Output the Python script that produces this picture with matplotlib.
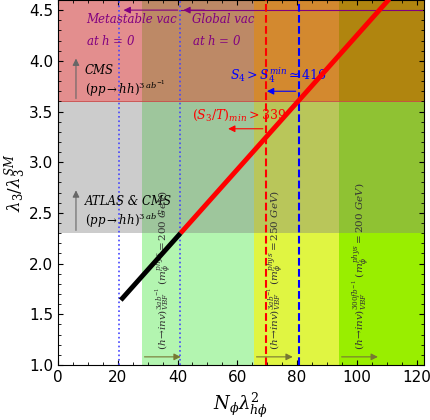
import matplotlib
matplotlib.use("Agg")
import matplotlib.pyplot as plt
from matplotlib.patches import Rectangle

# bands (x ranges) and colours
band_x = [(28, 65.5), (65.5, 94), (94, 122.5)]
band_colors = ["#b3f5b0", "#e0f542", "#99ee00"]
# horizontal exclusion regions (y ranges)
atlas_y = (2.3, 3.6)
cms_y = (3.6, 4.6)

# trajectory
black_x = [21, 41]
black_y = [1.64, 2.3]
red_x = [41, 113]
red_y = [2.3, 4.68]

vline_dotted = [20.5, 40.7]
vline_red = 69.5
vline_blue = 80.5

plt.rcParams["mathtext.fontset"] = "dejavuserif"
fig = plt.figure(figsize=(4.3, 4.2), dpi=100)
ax = fig.add_axes([0.135, 0.131, 0.851, 0.869])
ax.set_xlim(0, 122.5)
ax.set_ylim(1.0, 4.6)

for (x0, x1), c in zip(band_x, band_colors):
    ax.add_patch(Rectangle((x0, 1.0), x1 - x0, 3.6, color=c, lw=0, zorder=0))
ax.add_patch(Rectangle((0, atlas_y[0]), 122.5, atlas_y[1] - atlas_y[0], color="#808080", alpha=0.4, lw=0, zorder=1))
ax.add_patch(Rectangle((0, cms_y[0]), 122.5, cms_y[1] - cms_y[0], color="#c81e1e", alpha=0.5, lw=0, zorder=1))
ax.axhline(3.6, color="#cc4444", lw=0.6, zorder=1)

ax.plot(black_x, black_y, color="black", lw=3.5, solid_capstyle="butt", zorder=4)
ax.plot(red_x, red_y, color="red", lw=3.5, solid_capstyle="butt", zorder=4)

for xv in vline_dotted:
    ax.axvline(xv, color="#4444ff", ls=":", lw=1.2, zorder=3)
ax.axvline(vline_red, color="red", ls="--", lw=1.5, zorder=3)
ax.axvline(vline_blue, color="blue", ls="--", lw=1.5, zorder=3)

serif = dict(family="DejaVu Serif", style="italic")
# purple vacuum labels
ax.plot([41, 122], [4.5, 4.5], color="purple", lw=0.8)
ax.annotate("", xy=(21, 4.5), xytext=(41, 4.5), arrowprops=dict(arrowstyle="-|>", color="purple", lw=0.8))
ax.annotate("", xy=(41, 4.5), xytext=(50, 4.5), arrowprops=dict(arrowstyle="-|>", color="purple", lw=0.8))
ax.text(9.5, 4.3, "Metastable vac\nat $h$ = 0", color="purple", fontsize=8.5, va="center", linespacing=1.7, **serif)
ax.text(45, 4.3, "Global vac\nat $h$ = 0", color="purple", fontsize=8.5, va="center", linespacing=1.7, **serif)

# collider limits
ax.annotate("", xy=(6, 4.05), xytext=(6, 3.6), arrowprops=dict(arrowstyle="-|>", color="#666666", lw=0.8))
ax.annotate("", xy=(6, 2.75), xytext=(6, 2.3), arrowprops=dict(arrowstyle="-|>", color="#666666", lw=0.8))
ax.text(9, 3.87, "CMS", fontsize=8.5, **serif)
ax.text(9, 3.67, r"$(pp\rightarrow hh)^{3\,ab^{-1}}$", fontsize=8.5)
ax.text(9, 2.58, "ATLAS & CMS", fontsize=8.5, **serif)
ax.text(9, 2.38, r"$(pp\rightarrow hh)^{3\,ab^{-1}}$", fontsize=8.5)

# nucleation conditions
ax.annotate("", xy=(69, 3.7), xytext=(vline_blue, 3.7), arrowprops=dict(arrowstyle="-|>", color="blue", lw=0.8))
ax.text(57.5, 3.82, r"$S_4 > S_4^{min} \simeq 416$", color="blue", fontsize=9)
ax.annotate("", xy=(56, 3.33), xytext=(vline_red, 3.33), arrowprops=dict(arrowstyle="-|>", color="red", lw=0.8))
ax.text(45, 3.43, r"$(S_3/T)_{min} > 339$", color="red", fontsize=9)

# invisible Higgs decays
inv_labels = [
    r"$(h\!\rightarrow\! inv)^{3ab^{-1}}_{VBF}\ (m_\phi^{phys} = 200\ GeV)$",
    r"$(h\!\rightarrow\! inv)^{3ab^{-1}}_{VBF}\ (m_\phi^{phys} = 250\ GeV)$",
    r"$(h\!\rightarrow\! inv)^{300fb^{-1}}_{VBF}\ (m_\phi^{phys} = 200\ GeV)$",
]
for (x0, x1), lab in zip(band_x, inv_labels):
    ax.annotate("", xy=(x0 + 14, 1.08), xytext=(x0, 1.08), arrowprops=dict(arrowstyle="-|>", color="#777733", lw=0.8))
    ax.text(x0 + 7.5, 1.15, lab, rotation=90, fontsize=7.5, color="#333333", va="bottom", ha="center")

ax.set_xticks(range(0, 121, 20))
ax.set_yticks([1.0, 1.5, 2.0, 2.5, 3.0, 3.5, 4.0, 4.5])
ax.set_xticks(range(0, 121, 5), minor=True)
ax.set_yticks([1.0 + 0.1 * i for i in range(36)], minor=True)
ax.tick_params(direction="in", which="both", top=True, right=True, labelsize=11)
ax.set_xlabel(r"$N_\phi\lambda_{h\phi}^2$", fontsize=13)
ax.set_ylabel(r"$\lambda_3/\lambda_3^{SM}$", fontsize=12, labelpad=0)
fig.savefig("out.png", dpi=100)
